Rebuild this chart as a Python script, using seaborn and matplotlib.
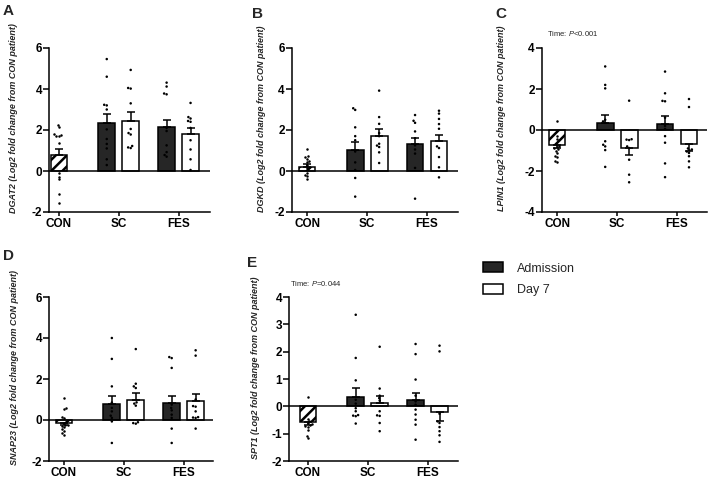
import numpy as np
import pandas as pd
import seaborn as sns
import matplotlib.pyplot as plt
from matplotlib.patches import Patch

groups = ['CON', 'SC', 'FES']
times = ['Admission', 'Day 7']
slots = [('CON', 'Control'), ('SC', 'Admission'), ('SC', 'Day 7'),
         ('FES', 'Admission'), ('FES', 'Day 7')]

# bar means / SEM in slot order: CON, SC adm, SC d7, FES adm, FES d7
dgat2_mean = [0.80, 2.36, 2.42, 2.13, 1.80]
dgat2_sem = [0.29, 0.44, 0.44, 0.36, 0.30]
dgat2_pts = [
    [2.24, 2.13, 1.80, 1.76, 1.73, 1.70, 1.35, -0.11, -0.28, -0.41, -1.14, -1.58],
    [5.46, 4.60, 3.23, 3.20, 3.00, 2.03, 1.56, 1.32, 1.10, 0.57, 0.29],
    [4.93, 4.05, 4.02, 3.30, 2.05, 1.85, 1.78, 1.22, 1.15, 1.12],
    [4.31, 4.12, 3.78, 3.74, 2.10, 1.95, 1.25, 0.92, 0.78, 0.70],
    [3.32, 2.63, 2.56, 2.44, 2.40, 2.10, 1.50, 1.05, 0.57, 0.05],
]

dgkd_mean = [0.21, 1.04, 1.72, 1.33, 1.45]
dgkd_sem = [0.15, 0.37, 0.33, 0.30, 0.32]
dgkd_pts = [
    [1.07, 0.72, 0.66, 0.60, 0.48, 0.42, 0.30, 0.15, -0.10, -0.18, -0.26, -0.40],
    [3.06, 2.98, 2.13, 1.70, 1.50, 0.95, 0.42, 0.05, -0.34, -1.25],
    [3.92, 2.63, 2.30, 1.85, 1.70, 1.33, 1.24, 1.17, 0.91, 0.39],
    [2.73, 2.45, 2.35, 1.93, 1.60, 1.25, 1.05, 0.85, 0.15, -1.35],
    [2.94, 2.80, 2.54, 2.29, 2.06, 1.20, 1.12, 0.68, 0.18, -0.31],
]

lpin1_mean = [-0.72, 0.34, -0.88, 0.29, -0.68]
lpin1_sem = [0.16, 0.41, 0.32, 0.41, 0.33]
lpin1_pts = [
    [0.45, -0.30, -0.45, -0.80, -0.85, -0.90, -0.95, -1.00, -1.10, -1.25, -1.30, -1.50, -1.58],
    [3.10, 2.20, 2.03, 0.50, 0.42, 0.35, -0.55, -0.72, -0.80, -0.98, -1.80],
    [1.43, -0.45, -0.47, -0.49, -0.80, -0.88, -1.45, -2.18, -2.55],
    [2.85, 1.79, 1.42, 1.40, 0.60, 0.20, 0.05, -0.30, -0.62, -1.63, -2.30],
    [1.51, 1.12, -0.90, -0.95, -1.00, -1.05, -1.12, -1.28, -1.53, -1.82],
]

snap23_mean = [-0.15, 0.78, 0.99, 0.83, 0.91]
snap23_sem = [0.10, 0.37, 0.33, 0.32, 0.37]
snap23_pts = [
    [1.07, 0.57, 0.52, 0.15, 0.08, -0.10, -0.16, -0.22, -0.25, -0.30, -0.35, -0.45, -0.55, -0.65, -0.73],
    [4.00, 2.98, 1.64, 0.85, 0.59, 0.42, 0.21, 0.10, -0.07, -1.12],
    [3.46, 1.77, 1.64, 1.56, 0.86, 0.80, 0.70, -0.11, -0.15, -0.18],
    [3.07, 3.02, 2.54, 0.75, 0.59, 0.47, 0.26, 0.10, -0.42, -1.12],
    [3.40, 3.14, 1.00, 0.68, 0.65, 0.42, 0.14, 0.12, 0.10, -0.42],
]

spt1_mean = [-0.57, 0.34, 0.11, 0.22, -0.20]
spt1_sem = [0.10, 0.32, 0.26, 0.26, 0.35]
spt1_pts = [
    [0.34, -0.45, -0.55, -0.62, -0.66, -0.68, -0.72, -0.75, -0.85, -1.07, -1.15],
    [3.35, 1.77, 0.95, 0.24, 0.10, -0.07, -0.18, -0.32, -0.34, -0.36, -0.63],
    [2.18, 0.65, 0.39, 0.30, 0.21, -0.18, -0.33, -0.35, -0.61, -0.91],
    [2.28, 1.91, 0.98, 0.39, 0.18, 0.06, -0.12, -0.30, -0.49, -0.67, -1.22],
    [2.22, 2.01, -0.27, -0.55, -0.61, -0.76, -0.91, -1.06, -1.30],
]

DARK = '#262626'
LW = 1.1
W, H = 708, 483
UNIT = 59.85  # px per category step

sns.set_style('ticks')
plt.rcParams['font.family'] = ['Liberation Sans', 'DejaVu Sans']
plt.rcParams['mathtext.fontset'] = 'custom'
plt.rcParams['mathtext.rm'] = 'Liberation Sans'
plt.rcParams['mathtext.it'] = 'Liberation Sans:italic'
plt.rcParams['hatch.linewidth'] = 1.8
plt.rcParams['hatch.color'] = 'black'


def draw_panel(fig, left, top, xlim, gene, means, sems, pts, yticks, lab_off):
    wpx = (xlim[1] - xlim[0]) * UNIT
    ax = fig.add_axes([left / W, 1 - (top + 164) / H, wpx / W, 164 / H])

    bars = pd.DataFrame({'group': [g for g, t in slots], 'time': [t for g, t in slots],
                         'value': means})
    rows = [(g, t, v) for (g, t), vals in zip(slots, pts) for v in vals]
    dots = pd.DataFrame(rows, columns=['group', 'time', 'value'])

    sns.barplot(data=bars[bars.group == 'CON'], x='group', y='value', order=groups,
                width=0.27, color='white', saturation=1, edgecolor='black',
                linewidth=LW, hatch='///', errorbar=None, ax=ax)
    sns.barplot(data=bars[bars.group != 'CON'], x='group', y='value', hue='time',
                hue_order=times, order=groups, palette=[DARK, 'white'], saturation=1,
                edgecolor='black', linewidth=LW, gap=0.3, errorbar=None,
                legend=False, ax=ax)

    # one-sided SEM bars, pointing away from zero
    rects = sorted(ax.patches, key=lambda p: p.get_x())
    xs = [p.get_x() + p.get_width() / 2 for p in rects]
    m = np.array(means)
    s = np.array(sems)
    lower = np.where(m < 0, s, 0)
    upper = np.where(m >= 0, s, 0)
    ax.errorbar(xs, m, yerr=[lower, upper], fmt='none', ecolor='black',
                elinewidth=LW, capsize=3, capthick=LW, zorder=4)
    ax.axhline(0, color='black', lw=LW, zorder=3)

    sns.swarmplot(data=dots[dots.group == 'CON'], x='group', y='value', order=groups,
                  color='black', size=1.8, ax=ax, zorder=5)
    sns.swarmplot(data=dots[dots.group != 'CON'], x='group', y='value', hue='time',
                  hue_order=times, order=groups, dodge=True, palette=['black', 'black'],
                  size=1.8, legend=False, ax=ax, zorder=5)

    ax.set_xlim(*xlim)
    ax.set_ylim(yticks[0], yticks[-1])
    ax.set_yticks(yticks)
    ax.set_yticklabels([str(t) for t in yticks], fontsize=8.5, fontweight='bold')
    ax.set_xticks(range(3))
    ax.set_xticklabels(groups, fontsize=8.5, fontweight='bold')
    ax.set_xlabel('')
    ax.set_ylabel(gene + ' (Log2 fold change from CON patient)', fontsize=6.5,
                  fontweight='bold', fontstyle='italic', va='center')
    ax.yaxis.set_label_coords(-lab_off / wpx, 0.57)
    sns.despine(ax=ax)
    for sp in ['left', 'bottom']:
        ax.spines[sp].set_linewidth(LW)
        ax.spines[sp].set_color('black')
    ax.tick_params(axis='y', length=4.3, width=LW, pad=1, colors='black')
    ax.tick_params(axis='x', length=3, width=LW, pad=1.5, colors='black')
    return ax


fig = plt.figure(figsize=(W / 100, H / 100), dpi=100)

draw_panel(fig, 49.3, 48, (-0.16, 2.52), 'DGAT2', dgat2_mean, dgat2_sem, dgat2_pts,
           [-2, 0, 2, 4, 6], 36)
draw_panel(fig, 292, 48, (-0.256, 2.518), 'DGKD', dgkd_mean, dgkd_sem, dgkd_pts,
           [-2, 0, 2, 4, 6], 31)
draw_panel(fig, 542, 48, (-0.256, 2.5), 'LPIN1', lpin1_mean, lpin1_sem, lpin1_pts,
           [-4, -2, 0, 2, 4], 40)
draw_panel(fig, 49.3, 297, (-0.245, 2.49), 'SNAP23', snap23_mean, snap23_sem, snap23_pts,
           [-2, 0, 2, 4, 6], 35)
draw_panel(fig, 289.3, 297, (-0.31, 2.51), 'SPT1', spt1_mean, spt1_sem, spt1_pts,
           [-2, -1, 0, 1, 2, 3, 4], 34)

for letter, x, y in [('A', 3, 4), ('B', 252, 7), ('C', 495, 7), ('D', 3, 249), ('E', 247, 256)]:
    fig.text(x / W, 1 - y / H, letter, ha='left', va='top', fontsize=11, fontweight='bold')

fig.text(547 / W, 1 - 33.5 / H, 'Time: $\\mathit{P}$<0.001', ha='left', va='center', fontsize=5.5)
fig.text(290 / W, 1 - 284 / H, 'Time: $\\mathit{P}$=0.044', ha='left', va='center', fontsize=5.5)

handles = [Patch(facecolor=DARK, edgecolor='black', linewidth=LW, label='Admission'),
           Patch(facecolor='white', edgecolor='black', linewidth=LW, label='Day 7')]
fig.legend(handles=handles, loc='upper left', bbox_to_anchor=(483 / W, 1 - 262 / H),
           frameon=False, fontsize=9, handlelength=1.6, handleheight=0.9,
           handletextpad=1.1, labelspacing=0.75, borderpad=0, borderaxespad=0)

fig.savefig('out.png', dpi=100)
